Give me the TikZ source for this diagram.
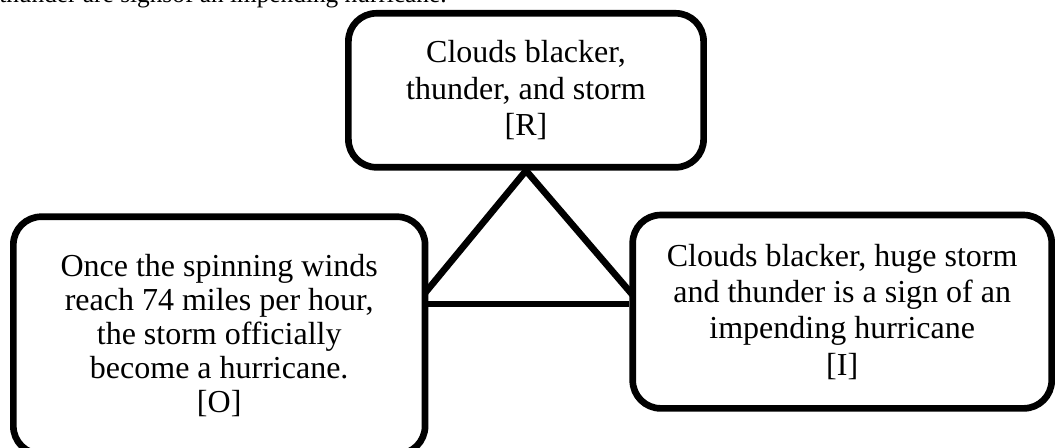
\documentclass[tikz,border=0pt]{standalone}
\usepackage{fontspec}
\setmainfont{Liberation Serif}
\begin{document}
\begin{tikzpicture}[x=0.75pt,y=-0.75pt,
  box/.style={draw, line width=5pt, rounded corners=21pt, inner sep=0pt, align=center},
  boxtext/.style={font=\fontsize{24}{#1}\selectfont},
  link/.style={line width=5pt, line join=miter}]
\useasboundingbox (0,0) rectangle (1055,448);
\clip (0,0) rectangle (1055,448);
\node[anchor=base west, inner sep=0pt, font=\fontsize{19}{22}\selectfont] (head) at (-1,3) {thunder are signsof an impending hurricane.};
\node[box, boxtext=27.5pt, minimum width=266.4pt, minimum height=115.5pt] (tbox) at (526,90.3)
  {Clouds blacker,\\thunder, and storm\\{}[R]};
\node[box, boxtext=25.5pt, minimum width=308.8pt, minimum height=178pt] (lbox) at (219.2,335.4)
  {Once the spinning winds\\reach 74 miles per hour,\\the storm officially\\become a hurricane.\\{}[O]};
\node[box, boxtext=27.2pt, minimum width=314.25pt, minimum height=145pt] (rbox) at (842.2,311.7)
  {Clouds blacker, huge storm\\and thunder is a sign of an\\impending hurricane\\{}[I]};
\coordinate (lj) at (425,293);
\coordinate (rj) at (632.7,295);
\coordinate (hy) at (0,304);
\draw[link] (lj) -- (tbox.south) -- (rj);
\draw[link] (lbox.east |- hy) -- (rbox.west |- hy);
\end{tikzpicture}
\end{document}
